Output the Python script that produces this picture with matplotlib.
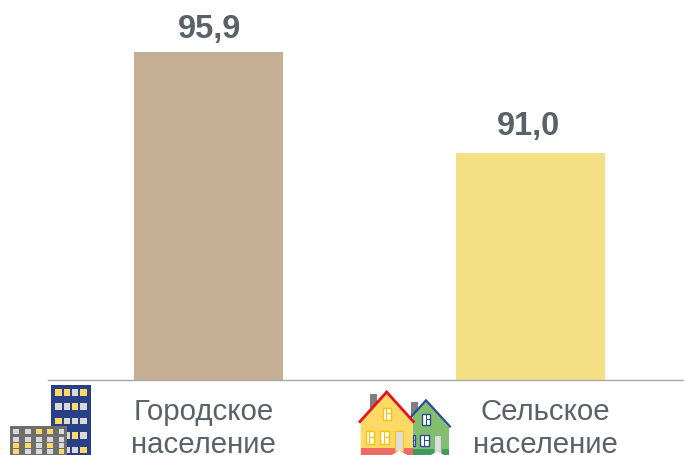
import matplotlib
matplotlib.use("Agg")
import matplotlib.pyplot as plt
from matplotlib.patches import Rectangle, Polygon

plt.rcParams['font.family'] = ['Liberation Sans', 'DejaVu Sans']

categories = ["Городское\nнаселение", "Сельское\nнаселение"]
values = [95.9, 91.0]
value_labels = ["95,9", "91,0"]
bar_colors = ["#C6AE94", "#F3E084"]
TEXT = "#5A6169"
W, H = 684, 456

fig = plt.figure(figsize=(6.84, 4.56), dpi=100)
# plot area: x 47.5..691.5 px, baseline at y=381 px, top of figure at y=0
ax = fig.add_axes([47.5 / W, (H - 381) / H, 644 / W, 381 / H])
ax.bar(range(len(values)), values, width=149 / 322, color=bar_colors, bottom=0)
ax.set_xlim(-0.5, 1.5)
ax.set_ylim(80, 80 + 381 / 20.6)
for s in ["top", "right", "left"]:
    ax.spines[s].set_visible(False)
ax.spines["bottom"].set_color("#A6A6A6")
ax.spines["bottom"].set_linewidth(1.0)
ax.set_yticks([])
ax.set_xticks([])
ax.patch.set_alpha(0)

# category labels: centres sit off the bar centres in the reference
label_dx = [-5, 15]
for i, t in enumerate(categories):
    ax.annotate(t, (i, 80), xytext=(label_dx[i] * 0.72, -12), textcoords="offset points",
                ha="center", va="top", fontsize=21.2, color=TEXT, linespacing=1.25,
                annotation_clip=False)

value_dy = [6.4, 9]
value_dx = [1, -2.5]
for i, (v, t) in enumerate(zip(values, value_labels)):
    ax.annotate(t, (i, v), xytext=(value_dx[i] * 0.72, value_dy[i]), textcoords="offset points",
                ha="center", va="bottom", fontsize=23.5, fontweight="bold", color=TEXT,
                annotation_clip=False)

# decorative icons, in pixel coordinates
ic = fig.add_axes([0, 0, 1, 1])
ic.set_xlim(0, W)
ic.set_ylim(H, 0)
ic.axis("off")
ic.patch.set_alpha(0)

def rect(x0, y0, x1, y1, fc, ec="none", lw=0, z=1):
    ic.add_patch(Rectangle((x0, y0), x1 - x0, y1 - y0, fc=fc, ec=ec, lw=lw, zorder=z))

Y, G = "#FFD966", "#D9D9D9"
# tall blue building
rect(51, 386, 91, 456, "#2A4086", z=1)
cols = [(55, 61.5), (63.5, 70), (72, 78), (80, 86.5)]
rows = [(390, 396.7), (404, 411), (419, 425), (433, 440), (448, 454)]
grid = ["YYGY", "GGYG", "YGGG", "GGYG", "GGGY"]
for r, line in zip(rows, grid):
    for c, k in zip(cols, line):
        rect(c[0], r[0], c[1], r[1], Y if k == "Y" else G, z=2)
# low grey building
rect(10, 427, 67, 456, "#6E6E6E", z=3)
cols = [(13.3, 19.3), (25, 30.7), (36, 41.7), (47.3, 53.3), (58.7, 64.3)]
rows = [(430.3, 435.3), (437.7, 442.7), (444, 448.7), (450, 455)]
grid = ["GGYYG", "GGGGG", "YYGYG", "YGGGY"]
for r, line in zip(rows, grid):
    for c, k in zip(cols, line):
        rect(c[0], r[0], c[1], r[1], Y if k == "Y" else G, z=4)

# houses: coordinates measured on a 3x crop starting at (340, 370)
def zx(x): return 340 + x / 3
def zy(y): return 370 + y / 3
def zrect(x0, y0, x1, y1, fc, ec="none", lw=0, z=5):
    rect(zx(x0), zy(y0), zx(x1), zy(y1), fc, ec, lw, z)
def zpoly(pts, fc="none", ec="none", lw=0, z=5, closed=True):
    ic.add_patch(Polygon([(zx(a), zy(b)) for a, b in pts], closed=closed, fc=fc, ec=ec, lw=lw, zorder=z))

def window(x0, y0, x1, y1, ec, z):
    zrect(x0, y0, x1, y1, "white", ec, 1.0, z=z)
    zrect((x0 + x1) / 2 - 2, y0, (x0 + x1) / 2 + 1, y1, ec, z=z + 1)
    zrect((x0 + x1) / 2, (y0 + y1) / 2 - 1, x1, (y0 + y1) / 2 + 2, ec, z=z + 1)

# green house (behind)
zrect(214, 100, 233, 145, "#7F7F7F", z=5)
zpoly([(258, 95), (218, 140), (218, 258), (327, 258), (327, 175)], fc="#82BE6E", z=5)
zrect(218, 240, 327, 258, "#3F9A5B", z=6)
zpoly([(212, 145), (258, 94), (332, 175)], ec="#2F4A96", lw=1.6, z=7, closed=False)
window(246, 135, 271, 167, "#2F4A96", 8)
window(241, 197, 266, 230, "#2F4A96", 8)
window(218, 197, 226, 230, "#2F4A96", 8)
zrect(281, 198, 303, 258, "#DDDDDD", "#7FB77E", 0.8, z=8)
zpoly([(272, 258), (292, 248), (312, 258)], fc="white", z=9)

# yellow house (front)
zrect(90, 76, 112, 125, "#7F7F7F", z=10)
zpoly([(140, 70), (62, 160), (62, 258), (218, 258), (218, 160)], fc="#FFD966", z=11)
zrect(62, 238, 218, 258, "#EE6A66", z=12)
zpoly([(57, 161), (140, 69), (223, 161)], ec="#E8121E", lw=2.0, z=13, closed=False)
window(128, 116, 153, 153, "#FFC000", 14)
window(77, 187, 103, 224, "#FFC000", 14)
window(120, 187, 147, 224, "#FFC000", 14)
zrect(165, 187, 190, 245, "#DDDDDD", "#FFC000", 0.8, z=14)
zpoly([(155, 258), (178, 245), (202, 258)], fc="white", z=15)

fig.savefig("out.png", dpi=100)
